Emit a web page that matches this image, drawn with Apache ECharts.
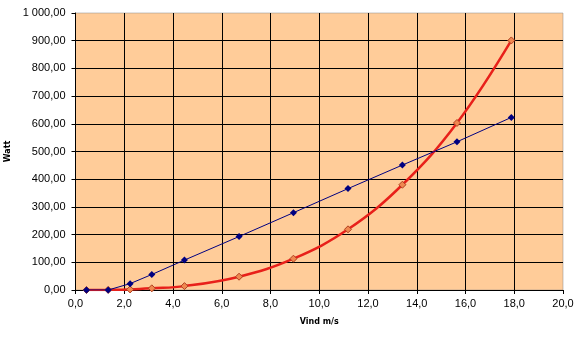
<!DOCTYPE html>
<html><head><meta charset="utf-8">
<script src="https://cdn.jsdelivr.net/npm/echarts@6/dist/echarts.min.js"></script>
<style>html,body{margin:0;padding:0;background:#fff}#c{width:582px;height:351px}</style>
</head><body><div id="c"></div>
<script>
var windSpeed = [0.45, 1.34, 2.24, 3.13, 4.47, 6.71, 8.94, 11.18, 13.41, 15.65, 17.88];
var seriesA = [0, 0, 23, 56, 108, 193, 279, 366, 451, 535, 623];
var seriesB = [0, 0.4, 2, 6, 14, 48, 113, 219, 380, 603, 901];
var xTitle = 'Vind m/s';
var yTitle = 'Watt';

function pair(xs, ys){ return xs.map(function(x,i){ return [x, ys[i]]; }); }
function fmtY(v){
  var s = v.toFixed(2).replace('.', ',');
  var parts = s.split(',');
  parts[0] = parts[0].replace(/\B(?=(\d{3})+(?!\d))/g, ' ');
  return parts.join(',');
}
var chart = echarts.init(document.getElementById('c'), null, {renderer:'canvas'});
chart.setOption({
  animation:false,
  backgroundColor:'#ffffff',
  grid:{left:75.5, right:19, top:13, bottom:61, containLabel:false, outerBoundsMode:'none', show:true, backgroundColor:'#FFCC99', borderColor:'#8a8a8a', borderWidth:1, borderType:'dotted'},
  xAxis:{
    type:'value', min:0, max:20, interval:2,
    name:xTitle, nameLocation:'middle', nameGap:28,
    nameTextStyle:{fontFamily:'DejaVu Sans', fontWeight:'bold', fontSize:8, color:'#000'},
    axisLine:{show:true, onZero:false, lineStyle:{color:'#000', width:1}},
    axisTick:{show:true, length:4, lineStyle:{color:'#000'}},
    axisLabel:{fontFamily:'Liberation Sans', fontSize:11, color:'#000', margin:8, formatter:function(v){return v.toFixed(1).replace('.', ',');}},
    splitLine:{show:true, showMinLine:false, showMaxLine:false, lineStyle:{color:'#000', width:1}}
  },
  yAxis:{
    type:'value', min:0, max:1000, interval:100,
    name:yTitle, nameLocation:'middle', nameGap:56, nameRotate:90,
    nameTextStyle:{fontFamily:'DejaVu Sans', fontWeight:'bold', fontSize:8, color:'#000'},
    axisLine:{show:true, onZero:false, lineStyle:{color:'#000', width:1}},
    axisTick:{show:true, length:4, lineStyle:{color:'#000'}},
    axisLabel:{fontFamily:'Liberation Sans', fontSize:11, color:'#000', margin:10, formatter:fmtY},
    splitLine:{show:true, showMinLine:false, showMaxLine:false, lineStyle:{color:'#000', width:1}}
  },
  series:[
    {type:'line', data:pair(windSpeed, seriesB), smooth:0.4, z:2,
     lineStyle:{color:'#E8201A', width:2.5},
     symbol:'diamond', symbolSize:7,
     itemStyle:{color:'#F08850', borderColor:'#B04020', borderWidth:1}},
    {type:'line', data:pair(windSpeed, seriesA), smooth:false, z:3,
     lineStyle:{color:'#000080', width:1},
     symbol:'diamond', symbolSize:7,
     itemStyle:{color:'#000080'}}
  ]
});
</script></body></html>
